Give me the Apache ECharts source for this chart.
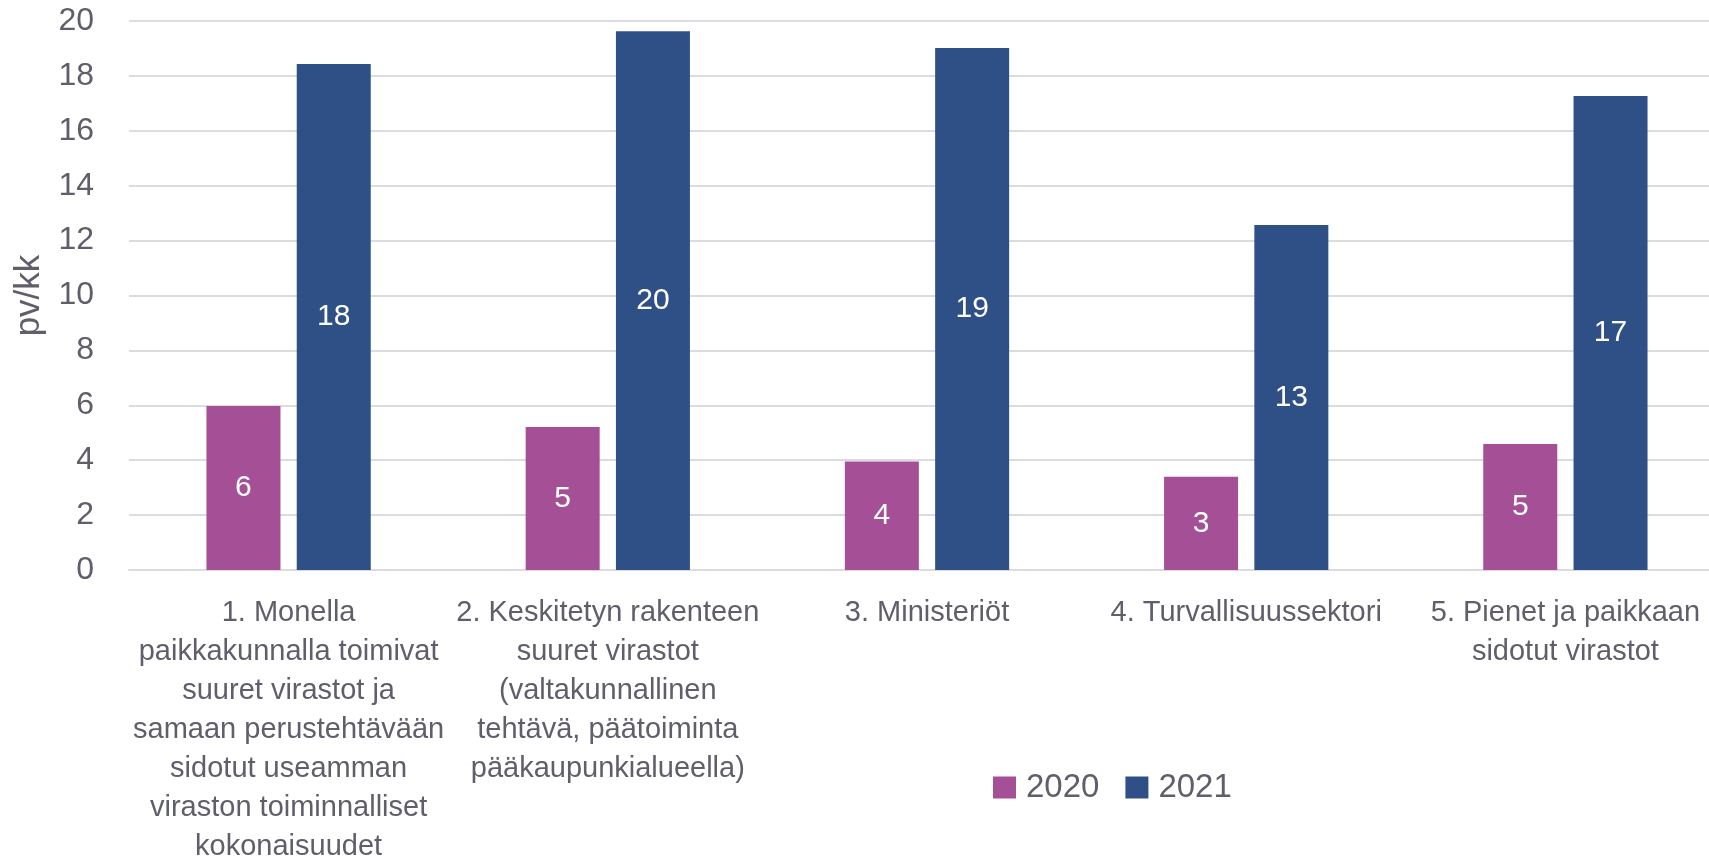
<!DOCTYPE html>
<html>
<head>
<meta charset="utf-8">
<script src="https://cdn.jsdelivr.net/npm/echarts@6/dist/echarts.min.js"></script>
<style>
  html, body { margin: 0; padding: 0; background: #fff; }
  #chart { width: 1709px; height: 859px; }
</style>
</head>
<body>
<div id="chart"></div>
<script>
// categories (line breaks as in the original)
const categories = [
  '1. Monella\npaikkakunnalla toimivat\nsuuret virastot ja\nsamaan perustehtävään\nsidotut useamman\nviraston toiminnalliset\nkokonaisuudet',
  '2. Keskitetyn rakenteen\nsuuret virastot\n(valtakunnallinen\ntehtävä, päätoiminta\npääkaupunkialueella)',
  '3. Ministeriöt',
  '4. Turvallisuussektori',
  '5. Pienet ja paikkaan\nsidotut virastot'
]
const seriesNames = ['2020', '2021']
const values2020 = [5.97, 5.21, 3.95, 3.40, 4.59]
const values2021 = [18.43, 19.63, 19.02, 12.57, 17.27]
const yName = 'pv/kk'

const font = "'Liberation Sans', Arial, sans-serif"
const textColor = '#5f5e6b'
const gridColor = '#dcdce0'
const colors = ['#a44f96', '#2f5087']

const chart = echarts.init(document.getElementById('chart'))

const labelStyle = {
  show: true,
  position: 'inside',
  color: '#fff',
  fontFamily: font,
  fontSize: 30,
  formatter: p => Math.round(p.value)
}

chart.setOption({
  animation: false,
  backgroundColor: '#fff',
  textStyle: { fontFamily: font },
  grid: {
    left: 129,
    right: -16,
    top: 21,
    bottom: 289,
    containLabel: false,
    outerBoundsMode: 'none'
  },
  legend: {
    data: seriesNames,
    left: 988,
    top: 766,
    icon: 'rect',
    itemWidth: 23,
    itemHeight: 22,
    itemGap: 26,
    textStyle: {
      color: textColor,
      fontFamily: font,
      fontSize: 33,
      padding: [0, 0, 0, 5]
    }
  },
  xAxis: {
    type: 'category',
    data: categories,
    axisLine: { lineStyle: { color: gridColor, width: 2 } },
    axisTick: { show: false },
    axisLabel: {
      interval: 0,
      color: textColor,
      fontFamily: font,
      fontSize: 29,
      lineHeight: 39,
      margin: 23
    }
  },
  yAxis: {
    type: 'value',
    min: 0,
    max: 20,
    interval: 2,
    name: yName,
    nameLocation: 'middle',
    nameRotate: 90,
    nameGap: 82,
    nameTextStyle: { color: textColor, fontFamily: font, fontSize: 35 },
    axisLine: { show: false },
    axisTick: { show: false },
    splitLine: { lineStyle: { color: gridColor, width: 2 } },
    axisLabel: {
      color: textColor,
      fontFamily: font,
      fontSize: 32,
      margin: 35
    }
  },
  series: [
    {
      name: seriesNames[0],
      type: 'bar',
      data: values2020,
      barWidth: 74,
      barGap: '22%',
      itemStyle: { color: colors[0] },
      label: labelStyle
    },
    {
      name: seriesNames[1],
      type: 'bar',
      data: values2021,
      barWidth: 74,
      barGap: '22%',
      itemStyle: { color: colors[1] },
      label: labelStyle
    }
  ]
})
</script>
</body>
</html>
